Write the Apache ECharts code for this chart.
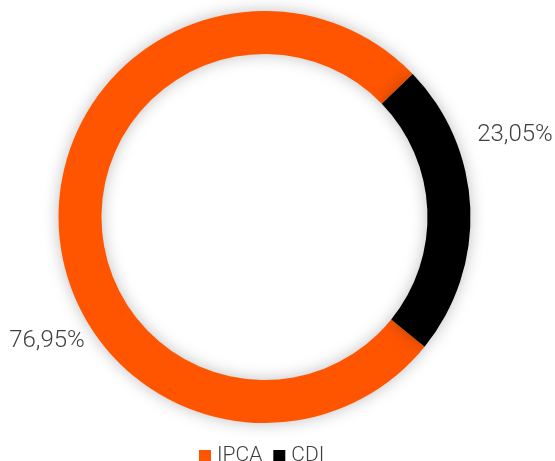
<!DOCTYPE html>
<html>
<head>
<meta charset="utf-8">
<script src="https://cdn.jsdelivr.net/npm/echarts@6/dist/echarts.min.js"></script>
<style>
  html, body { margin: 0; padding: 0; background: #fff; }
  #chart { width: 555px; height: 461px; }
</style>
</head>
<body>
<div id="chart"></div>
<script>
const categories = ["IPCA", "CDI"]
const shares = [76.95, 23.05]
const colors = ["#ff5500", "#000000"]

// where each percentage label sits (chart pixels)
const labelSpots = [[47, 341], [515, 135]]

const fmt = v => v.toFixed(2).replace(".", ",") + "%"

const chart = echarts.init(document.getElementById("chart"))

chart.setOption({
    animation: false,
    color: colors,
    legend: {
        data: categories,
        top: 445,
        left: 199,
        padding: 0,
        icon: "rect",
        itemWidth: 12,
        itemHeight: 12,
        itemGap: 11,
        textStyle: {
            fontFamily: "Roboto", fontSize: 21, fontWeight: 300, lineHeight: 22,
            color: "#404040", padding: [0, 0, 0, 1]
        }
    },
    series: [{
        type: "pie",
        center: [264.5, 217],
        radius: [163, 206],
        startAngle: -39,
        clockwise: true,
        itemStyle: {shadowBlur: 16, shadowColor: "rgba(0,0,0,0.25)"},
        emphasis: {disabled: true},
        label: {
            show: true,
            position: "outside",
            overflow: "none",
            formatter: p => fmt(p.value),
            fontFamily: "Roboto",
            fontSize: 24,
            fontWeight: 300,
            color: "#404040"
        },
        labelLine: {show: false},
        labelLayout: p => ({
            x: labelSpots[p.dataIndex][0],
            y: labelSpots[p.dataIndex][1],
            align: "center",
            verticalAlign: "middle",
            hideOverlap: false
        }),
        data: categories.map((name, i) => ({name, value: shares[i]}))
    }]
})
</script>
</body>
</html>
